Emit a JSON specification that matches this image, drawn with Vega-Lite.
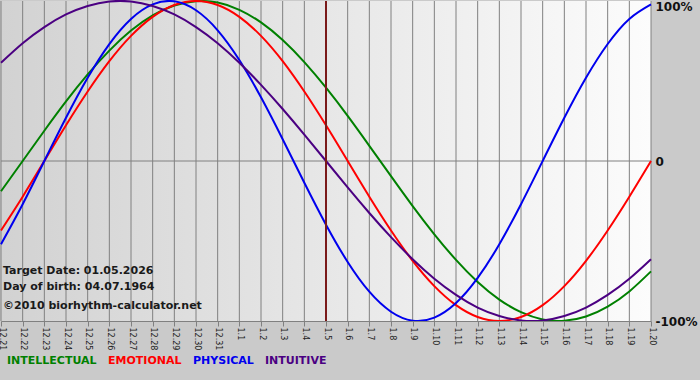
{
  "$schema": "https://vega.github.io/schema/vega-lite/v6.json",
  "width": 650,
  "height": 320,
  "autosize": {"type": "none"},
  "padding": {"left": 1, "top": 1, "right": 49, "bottom": 59},
  "background": "#cacaca",
  "config": {"view": {"stroke": null}, "font": "DejaVu Sans"},
  "data": {"values": [
    {"day": "12.21", "INTELLECTUAL": -0.189, "EMOTIONAL": -0.434, "PHYSICAL": -0.520, "INTUITIVE": 0.614},
    {"day": "12.22", "INTELLECTUAL": 0.0, "EMOTIONAL": -0.223, "PHYSICAL": -0.270, "INTUITIVE": 0.736},
    {"day": "12.23", "INTELLECTUAL": 0.189, "EMOTIONAL": 0.0, "PHYSICAL": 0.0, "INTUITIVE": 0.837},
    {"day": "12.24", "INTELLECTUAL": 0.372, "EMOTIONAL": 0.223, "PHYSICAL": 0.270, "INTUITIVE": 0.916},
    {"day": "12.25", "INTELLECTUAL": 0.541, "EMOTIONAL": 0.434, "PHYSICAL": 0.520, "INTUITIVE": 0.969},
    {"day": "12.26", "INTELLECTUAL": 0.690, "EMOTIONAL": 0.624, "PHYSICAL": 0.731, "INTUITIVE": 0.997},
    {"day": "12.27", "INTELLECTUAL": 0.815, "EMOTIONAL": 0.782, "PHYSICAL": 0.888, "INTUITIVE": 0.997},
    {"day": "12.28", "INTELLECTUAL": 0.910, "EMOTIONAL": 0.901, "PHYSICAL": 0.979, "INTUITIVE": 0.969},
    {"day": "12.29", "INTELLECTUAL": 0.972, "EMOTIONAL": 0.975, "PHYSICAL": 0.998, "INTUITIVE": 0.916},
    {"day": "12.30", "INTELLECTUAL": 0.999, "EMOTIONAL": 1.0, "PHYSICAL": 0.942, "INTUITIVE": 0.837},
    {"day": "12.31", "INTELLECTUAL": 0.990, "EMOTIONAL": 0.975, "PHYSICAL": 0.817, "INTUITIVE": 0.736},
    {"day": "1.1", "INTELLECTUAL": 0.945, "EMOTIONAL": 0.901, "PHYSICAL": 0.631, "INTUITIVE": 0.614},
    {"day": "1.2", "INTELLECTUAL": 0.866, "EMOTIONAL": 0.782, "PHYSICAL": 0.398, "INTUITIVE": 0.476},
    {"day": "1.3", "INTELLECTUAL": 0.756, "EMOTIONAL": 0.624, "PHYSICAL": 0.136, "INTUITIVE": 0.325},
    {"day": "1.4", "INTELLECTUAL": 0.618, "EMOTIONAL": 0.434, "PHYSICAL": -0.136, "INTUITIVE": 0.165},
    {"day": "1.5", "INTELLECTUAL": 0.458, "EMOTIONAL": 0.223, "PHYSICAL": -0.398, "INTUITIVE": 0.0},
    {"day": "1.6", "INTELLECTUAL": 0.282, "EMOTIONAL": 0.0, "PHYSICAL": -0.631, "INTUITIVE": -0.165},
    {"day": "1.7", "INTELLECTUAL": 0.095, "EMOTIONAL": -0.223, "PHYSICAL": -0.817, "INTUITIVE": -0.325},
    {"day": "1.8", "INTELLECTUAL": -0.095, "EMOTIONAL": -0.434, "PHYSICAL": -0.942, "INTUITIVE": -0.476},
    {"day": "1.9", "INTELLECTUAL": -0.282, "EMOTIONAL": -0.624, "PHYSICAL": -0.998, "INTUITIVE": -0.614},
    {"day": "1.10", "INTELLECTUAL": -0.458, "EMOTIONAL": -0.782, "PHYSICAL": -0.979, "INTUITIVE": -0.736},
    {"day": "1.11", "INTELLECTUAL": -0.618, "EMOTIONAL": -0.901, "PHYSICAL": -0.888, "INTUITIVE": -0.837},
    {"day": "1.12", "INTELLECTUAL": -0.756, "EMOTIONAL": -0.975, "PHYSICAL": -0.731, "INTUITIVE": -0.916},
    {"day": "1.13", "INTELLECTUAL": -0.866, "EMOTIONAL": -1.0, "PHYSICAL": -0.520, "INTUITIVE": -0.969},
    {"day": "1.14", "INTELLECTUAL": -0.945, "EMOTIONAL": -0.975, "PHYSICAL": -0.270, "INTUITIVE": -0.997},
    {"day": "1.15", "INTELLECTUAL": -0.990, "EMOTIONAL": -0.901, "PHYSICAL": 0.0, "INTUITIVE": -0.997},
    {"day": "1.16", "INTELLECTUAL": -0.999, "EMOTIONAL": -0.782, "PHYSICAL": 0.270, "INTUITIVE": -0.969},
    {"day": "1.17", "INTELLECTUAL": -0.972, "EMOTIONAL": -0.624, "PHYSICAL": 0.520, "INTUITIVE": -0.916},
    {"day": "1.18", "INTELLECTUAL": -0.910, "EMOTIONAL": -0.434, "PHYSICAL": 0.731, "INTUITIVE": -0.837},
    {"day": "1.19", "INTELLECTUAL": -0.815, "EMOTIONAL": -0.223, "PHYSICAL": 0.888, "INTUITIVE": -0.736},
    {"day": "1.20", "INTELLECTUAL": -0.690, "EMOTIONAL": 0.0, "PHYSICAL": 0.979, "INTUITIVE": -0.614}
  ]},
  "layer": [
    {
      "data": {"values": [{"panel": "plot"}]},
      "mark": {"type": "rect", "fill": {"gradient": "linear", "x1": 0, "y1": 0, "x2": 1, "y2": 0, "stops": [{"offset": 0, "color": "#d2d2d2"}, {"offset": 1, "color": "#fcfcfc"}]}},
      "encoding": {
        "x": {"datum": "12.21", "type": "ordinal"},
        "x2": {"datum": "1.20"},
        "y": {"datum": 1, "type": "quantitative"},
        "y2": {"datum": -1}
      }
    },
    {
      "mark": {"type": "rule", "color": "#808080", "strokeWidth": 1},
      "encoding": {
        "x": {
          "field": "day", "type": "ordinal", "sort": null,
          "scale": {"type": "point", "padding": 0, "domain": ["12.21","12.22","12.23","12.24","12.25","12.26","12.27","12.28","12.29","12.30","12.31","1.1","1.2","1.3","1.4","1.5","1.6","1.7","1.8","1.9","1.10","1.11","1.12","1.13","1.14","1.15","1.16","1.17","1.18","1.19","1.20"]},
          "axis": {"title": null, "grid": false, "domain": true, "domainColor": "#808080", "ticks": true, "tickColor": "#808080", "tickSize": 5, "labelAngle": 90, "labelAlign": "left", "labelBaseline": "middle", "labelFont": "DejaVu Sans", "labelFontSize": 8, "labelColor": "#222222", "labelPadding": 1, "labelOverlap": false, "labelBound": false, "zindex": 1}
        }
      }
    },
    {
      "data": {"values": [{"panel": "zero"}]},
      "mark": {"type": "rule", "color": "#808080", "strokeWidth": 1},
      "encoding": {"y": {"datum": 0, "type": "quantitative"}}
    },
    {
      "transform": [{"fold": ["INTELLECTUAL", "EMOTIONAL", "PHYSICAL", "INTUITIVE"]}],
      "mark": {"type": "line", "strokeWidth": 2, "interpolate": "natural", "clip": false},
      "encoding": {
        "x": {"field": "day", "type": "ordinal", "sort": null},
        "y": {
          "field": "value", "type": "quantitative",
          "scale": {"domain": [-1, 1], "nice": false, "zero": false},
          "axis": {"orient": "right", "title": null, "grid": false, "domain": false, "ticks": false, "values": [1, 0, -1], "labelExpr": "datum.value == 1 ? '100%' : datum.value == 0 ? '0' : '-100%'", "labelFont": "DejaVu Sans", "labelFontSize": 12, "labelFontWeight": "bold", "labelColor": "#111111", "labelPadding": 4, "labelBaseline": {"condition": {"test": "datum.value == 1", "value": "top"}, "value": "middle"}}
        },
        "color": {
          "field": "key", "type": "nominal",
          "scale": {"domain": ["INTELLECTUAL", "EMOTIONAL", "PHYSICAL", "INTUITIVE"], "range": ["#008000", "#ff0000", "#0000ee", "#4b0082"]},
          "legend": {"orient": "none", "legendX": -5, "legendY": 354, "direction": "horizontal", "title": null, "padding": 0, "symbolSize": 0, "symbolStrokeWidth": 0, "symbolOpacity": 0, "labelOffset": 0, "columnPadding": -2, "labelFont": "DejaVu Sans", "labelFontSize": 11, "labelFontWeight": "bold", "encode": {"labels": {"update": {"fill": {"signal": "scale('color', datum.value)"}}}}}
        }
      }
    },
    {
      "data": {"values": [{"line1": "Target Date: 01.05.2026", "line2": "Day of birth: 04.07.1964", "line3": "©2010 biorhythm-calculator.net"}]},
      "layer": [
        {"mark": {"type": "text", "align": "left", "baseline": "middle", "dx": 2, "font": "DejaVu Sans", "fontSize": 11, "fontWeight": "bold", "color": "#1a1a1a"},
         "encoding": {"x": {"datum": "12.21", "type": "ordinal"}, "y": {"datum": -0.6875, "type": "quantitative"}, "text": {"field": "line1"}}},
        {"mark": {"type": "text", "align": "left", "baseline": "middle", "dx": 2, "font": "DejaVu Sans", "fontSize": 11, "fontWeight": "bold", "color": "#1a1a1a"},
         "encoding": {"x": {"datum": "12.21", "type": "ordinal"}, "y": {"datum": -0.7875, "type": "quantitative"}, "text": {"field": "line2"}}},
        {"mark": {"type": "text", "align": "left", "baseline": "middle", "dx": 2, "font": "DejaVu Sans", "fontSize": 11, "fontWeight": "bold", "color": "#1a1a1a"},
         "encoding": {"x": {"datum": "12.21", "type": "ordinal"}, "y": {"datum": -0.906, "type": "quantitative"}, "text": {"field": "line3"}}}
      ]
    },
    {
      "data": {"values": [{"panel": "target"}]},
      "mark": {"type": "rule", "color": "#7a1a1a", "strokeWidth": 2},
      "encoding": {"x": {"datum": "1.5", "type": "ordinal"}}
    }
  ]
}
